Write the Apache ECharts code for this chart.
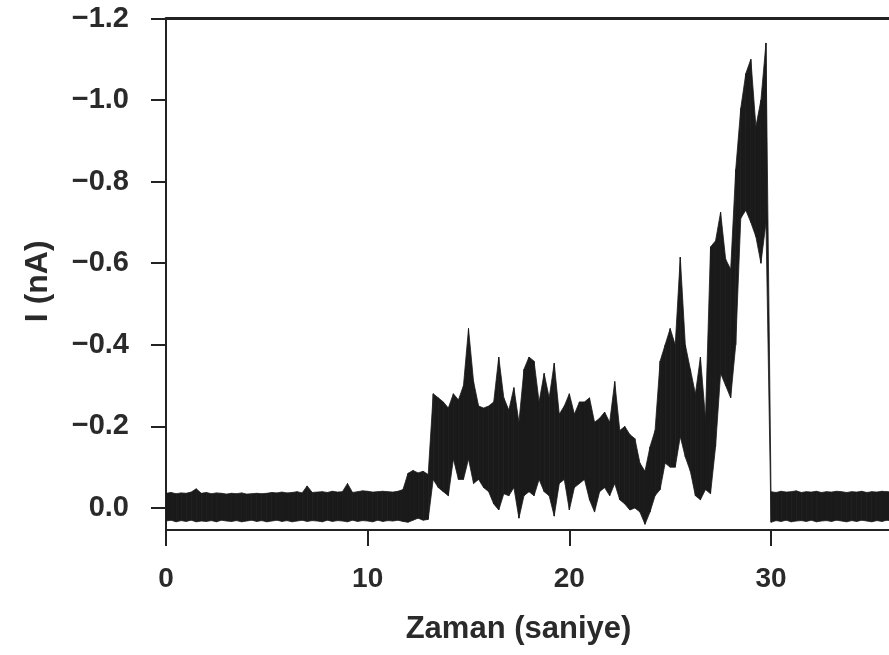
<!DOCTYPE html>
<html>
<head>
<meta charset="utf-8">
<script src="https://cdn.jsdelivr.net/npm/echarts@6/dist/echarts.min.js"></script>
<style>
html,body{margin:0;padding:0;background:#fff;}
#chart{width:889px;height:655px;}
</style>
</head>
<body>
<div id="chart"></div>
<script>
// Sampling grid of the trace (seconds)
const timeStart = 0;
const timeStep = 0.25;

// Upper (most negative) envelope of the current trace, nA, one value per time step
const currentTop = [
  -0.036,-0.038,-0.035,-0.037,-0.036,-0.039,-0.047,-0.036,
  -0.038,-0.035,-0.037,-0.036,-0.034,-0.036,-0.035,-0.037,
  -0.034,-0.035,-0.036,-0.035,-0.036,-0.038,-0.037,-0.039,
  -0.037,-0.038,-0.040,-0.037,-0.054,-0.038,-0.039,-0.040,
  -0.038,-0.041,-0.039,-0.040,-0.060,-0.038,-0.040,-0.042,
  -0.041,-0.039,-0.040,-0.041,-0.040,-0.039,-0.041,-0.045,
  -0.085,-0.092,-0.086,-0.090,-0.082,-0.280,-0.270,-0.260,
  -0.245,-0.280,-0.265,-0.300,-0.440,-0.310,-0.250,-0.245,
  -0.250,-0.260,-0.370,-0.270,-0.240,-0.295,-0.210,-0.340,
  -0.370,-0.360,-0.260,-0.330,-0.270,-0.355,-0.230,-0.250,
  -0.280,-0.230,-0.260,-0.260,-0.270,-0.210,-0.220,-0.235,
  -0.210,-0.310,-0.190,-0.200,-0.180,-0.170,-0.110,-0.090,
  -0.150,-0.190,-0.360,-0.400,-0.440,-0.400,-0.615,-0.400,
  -0.340,-0.280,-0.370,-0.220,-0.640,-0.655,-0.725,-0.610,
  -0.585,-0.830,-0.980,-1.065,-1.100,-0.935,-1.000,-1.140,
  -0.040,-0.038,-0.041,-0.039,-0.040,-0.042,-0.038,-0.040,
  -0.039,-0.041,-0.038,-0.040,-0.039,-0.041,-0.040,-0.038,
  -0.040,-0.039,-0.041,-0.038,-0.040,-0.039,-0.041,-0.040,
  -0.039
];

// Lower (most positive) envelope of the current trace, nA, one value per time step
const currentBottom = [
  0.032,0.030,0.034,0.031,0.033,0.030,0.034,0.032,
  0.033,0.031,0.034,0.030,0.032,0.033,0.031,0.034,
  0.032,0.030,0.033,0.031,0.034,0.032,0.030,0.033,
  0.031,0.034,0.032,0.030,0.033,0.031,0.032,0.034,
  0.030,0.033,0.031,0.032,0.034,0.030,0.033,0.031,
  0.032,0.034,0.030,0.033,0.031,0.032,0.030,0.033,
  0.035,0.030,0.025,0.030,0.028,-0.070,-0.050,-0.040,
  -0.030,-0.120,-0.070,-0.070,-0.120,-0.060,-0.070,-0.050,
  -0.040,-0.010,0.005,-0.035,-0.030,-0.050,0.025,-0.030,
  -0.040,-0.030,-0.070,-0.040,-0.030,0.020,-0.060,-0.070,
  0.005,-0.050,-0.060,-0.070,-0.020,0.010,-0.040,-0.050,
  -0.030,-0.060,-0.020,-0.010,0.005,0.000,0.010,0.040,
  0.010,-0.030,-0.045,-0.110,-0.100,-0.100,-0.175,-0.125,
  -0.090,-0.030,-0.020,-0.045,-0.035,-0.150,-0.330,-0.300,
  -0.270,-0.400,-0.710,-0.730,-0.700,-0.665,-0.600,-0.700,
  0.035,0.031,0.033,0.030,0.034,0.032,0.031,0.033,
  0.030,0.034,0.032,0.031,0.033,0.030,0.032,0.034,
  0.031,0.033,0.030,0.032,0.034,0.031,0.033,0.030,
  0.032
];

const xTicks = [0, 10, 20, 30];
const yTicks = [-1.2, -1.0, -0.8, -0.6, -0.4, -0.2, 0.0];
const xMin = 0, xMax = 35.85;
const yMin = -1.2, yMax = 0.054;

// One record per sample: [time, upper envelope, lower envelope]
const traceRows = currentTop.map((top, i) => [timeStart + i * timeStep, top, currentBottom[i]]);

const axisColor = '#222';
const textColor = '#2a2a2a';
const traceColor = '#1a1a1a';
const font = 'Liberation Sans, Arial, sans-serif';
const fmt = v => { const s = Number(v).toFixed(1); return s.charAt(0) === '-' ? '\u2212' + s.slice(1) : s; };

// Fill the band between the envelopes, segment by segment, through the axis scales
function renderBand(params, api) {
  const i = params.dataIndexInside;
  if (i >= params.dataInsideLength - 1) return null;
  const t0 = api.value(0, i), a0 = api.value(1, i), b0 = api.value(2, i);
  const t1 = api.value(0, i + 1), a1 = api.value(1, i + 1), b1 = api.value(2, i + 1);
  const pts = [api.coord([t0, a0]), api.coord([t1, a1]), api.coord([t1, b1]), api.coord([t0, b0])];
  return {
    type: 'polygon',
    shape: {points: pts},
    style: {fill: traceColor, stroke: traceColor, lineWidth: 0.8}
  };
}

const chart = echarts.init(document.getElementById('chart'), null, {renderer: 'canvas'});
chart.setOption({
  animation: false,
  backgroundColor: '#fff',
  grid: {left: 166, right: 0, top: 18.5, bottom: 125, containLabel: false},
  xAxis: [{
    type: 'value', min: xMin, max: xMax, position: 'bottom',
    axisLine: {show: true, onZero: false, lineStyle: {color: axisColor, width: 2}},
    axisTick: {show: true, length: 16, customValues: xTicks, lineStyle: {color: axisColor, width: 2}},
    axisLabel: {customValues: xTicks, margin: 35, fontSize: 28, fontWeight: 'bold', color: textColor, fontFamily: font},
    splitLine: {show: false},
    name: 'Zaman (saniye)', nameLocation: 'middle', nameGap: 84,
    nameTextStyle: {fontSize: 31, fontWeight: 'bold', color: textColor, fontFamily: font, padding: [0, 18, 0, 0]}
  }, {
    type: 'value', min: xMin, max: xMax, position: 'top',
    axisLine: {show: true, onZero: false, lineStyle: {color: axisColor, width: 3}},
    axisTick: {show: false}, axisLabel: {show: false}, splitLine: {show: false}
  }],
  yAxis: {
    type: 'value', inverse: true, min: yMin, max: yMax,
    axisLine: {show: true, onZero: false, lineStyle: {color: axisColor, width: 2}},
    axisTick: {show: true, length: 15, customValues: yTicks, lineStyle: {color: axisColor, width: 2}},
    axisLabel: {customValues: yTicks, margin: 37, fontSize: 29, fontWeight: 'bold', color: textColor, fontFamily: font,
      formatter: fmt},
    splitLine: {show: false},
    name: 'I (nA)', nameLocation: 'middle', nameGap: 112,
    nameTextStyle: {fontSize: 32, fontWeight: 'bold', color: textColor, fontFamily: font, padding: [0, 14, 0, 0]}
  },
  series: [{
    type: 'custom', xAxisIndex: 0, yAxisIndex: 0, clip: true,
    data: traceRows,
    encode: {x: 0, y: [1, 2]},
    renderItem: renderBand, z: 3
  }]
});
</script>
</body>
</html>
